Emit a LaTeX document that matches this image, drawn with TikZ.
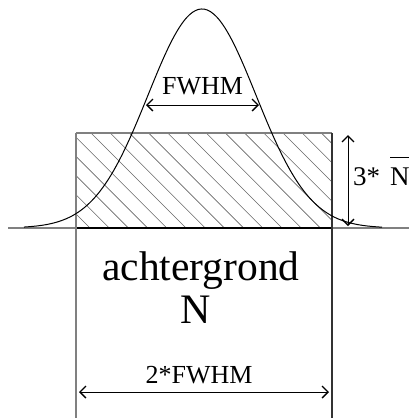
\documentclass[tikz,border=0pt]{standalone}
\usepackage{fontspec}
\setmainfont{Liberation Serif}
\usetikzlibrary{arrows.meta}
\begin{document}
\begin{tikzpicture}[x=1pt,y=-1pt,
  lbl/.style={inner sep=0pt,anchor=base},
  dimarrow/.style={line width=0.9pt,{Straight Barb[length=6pt,width=12pt,line width=1.4pt]}-{Straight Barb[length=6pt,width=12pt,line width=1.4pt]}},
  hatch/.style={gray!80!black,line width=0.6pt},
  edgegray/.style={gray,line width=1.2pt}]
\useasboundingbox (0,0) rectangle (409,418);
% coordinates
\coordinate (rtl) at (76,133);
\coordinate (rtr) at (332,133);
\coordinate (rbl) at (76,228);
\coordinate (rbr) at (332,228);
\coordinate (bl) at (76,418);
\coordinate (br) at (332,418);
\coordinate (base0) at (8,228);
\coordinate (base1) at (409,228);
% hatching
\begin{scope}
\clip (rtl) rectangle (rbr);
\foreach \k in {-2,...,19}{
  \pgfmathsetmacro{\c}{-138+19.2*\k}
  \draw[hatch] (\c+100,100) -- (\c+260,260);
}
\end{scope}
% baseline
\draw[edgegray,line width=1.5pt] (base0) -- (base1);
\draw[line width=2.6pt] (rbl) -- (rbr);
% rectangle edges
\draw[edgegray] (rtl) -- (rtr);
\draw[edgegray] (rtl) -- (bl);
\draw[line width=1.1pt,black!80] (rtr) -- (br);
% gaussian
\draw[line width=1pt,domain=24:382,samples=120,smooth] plot (\x,{228-219*exp(-0.5*((\x-202)/54)^2)});
% labels
\node[lbl,font=\fontsize{26}{28}\selectfont] (fwhm) at (202.5,94) {FWHM};
\coordinate (fa) at (146,105);
\coordinate (fb) at (259,105);
\draw[dimarrow] (fa) -- (fb);
\node[lbl,font=\fontsize{41.5}{44}\selectfont] (acht) at (201,280) {achtergrond};
\node[lbl,font=\fontsize{42}{44}\selectfont] (nn) at (196,323) {N};
\node[lbl,font=\fontsize{26}{28}\selectfont] (twofwhm) at (199,383) {2*FWHM};
\coordinate (ba) at (79,392);
\coordinate (bb) at (329,392);
\draw[dimarrow] (ba) -- (bb);
\coordinate (va) at (348,135);
\coordinate (vb) at (348,226);
\draw[dimarrow] (va) -- (vb);
\node[lbl,anchor=base west,font=\fontsize{27}{29}\selectfont] (three) at (353,185) {3*\hspace{10pt}$\overline{\hbox{\rule{0pt}{26pt}N}}$};
\end{tikzpicture}
\end{document}
